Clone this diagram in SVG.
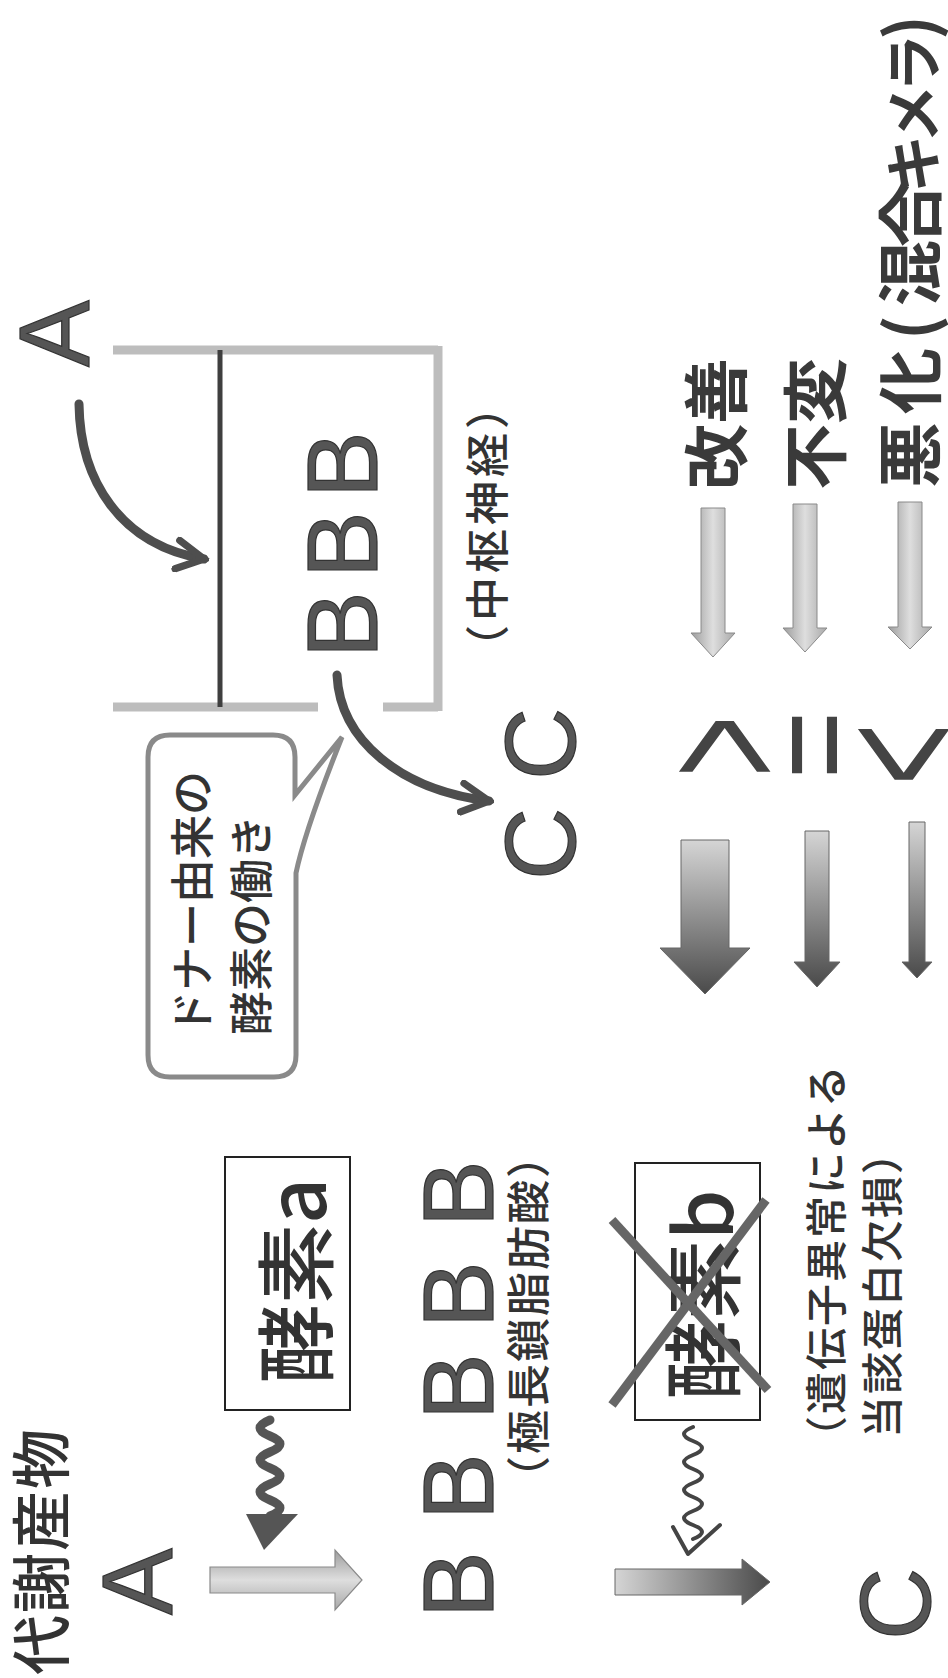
<svg xmlns="http://www.w3.org/2000/svg" width="948" height="1678" viewBox="0 0 948 1678">
<defs>
<style>
.jp{font-family:"Noto Sans CJK JP","Noto Sans CJK SC",sans-serif;fill:#333;font-weight:500}
.jb{font-family:"Noto Sans CJK JP","Noto Sans CJK SC",sans-serif;fill:#3a3a3a;font-weight:bold;font-size:66px}
.lt{font-family:"Liberation Sans",Arial,sans-serif;fill:#555;stroke:#333;stroke-width:1.2;font-size:100px}
.sym{font-family:"Liberation Sans",Arial,sans-serif;fill:#444}
.br{stroke:#bdbdbd;stroke-width:9;fill:none}
.curve{stroke:#4e4e4e;stroke-width:9;fill:none;stroke-linecap:round}
.box{fill:none;stroke:#222;stroke-width:2}
</style>
<linearGradient id="gLightH" x1="0" y1="0" x2="1" y2="0"><stop offset="0" stop-color="#9c9c9c"/><stop offset="0.5" stop-color="#dedede"/><stop offset="1" stop-color="#a8a8a8"/></linearGradient>
<linearGradient id="gLightV" x1="0" y1="0" x2="0" y2="1"><stop offset="0" stop-color="#9c9c9c"/><stop offset="0.5" stop-color="#dedede"/><stop offset="1" stop-color="#a8a8a8"/></linearGradient>
<linearGradient id="gDarkV" x1="0" y1="0" x2="0" y2="1"><stop offset="0" stop-color="#d5d5d5"/><stop offset="1" stop-color="#4a4a4a"/></linearGradient>
<linearGradient id="gDarkH" x1="0" y1="0" x2="1" y2="0"><stop offset="0" stop-color="#d5d5d5"/><stop offset="1" stop-color="#4a4a4a"/></linearGradient>
<marker id="chev" viewBox="0 0 10 10" refX="8.5" refY="5" markerWidth="4" markerHeight="4" orient="auto" markerUnits="strokeWidth"><path d="M1,1 L8.5,5 L1,9" fill="none" stroke="#4e4e4e" stroke-width="2" stroke-linecap="round"/></marker>
</defs>
<rect width="948" height="1678" fill="#fff"/>

<!-- connectors -->
<g id="connectors">
<polygon points="210,1567 335,1567 335,1550 362,1580 335,1610 335,1593 210,1593" fill="url(#gLightV)" stroke="#8a8a8a" stroke-width="1.2"/>
<polygon points="615,1569 742,1569 742,1559 770,1582 742,1605 742,1595 615,1595" fill="url(#gDarkH)" stroke="#666" stroke-width="1"/>
<path d="M270,1420 q-20,8 0,16 t0,16 t0,16 t0,16 t0,16 t0,16" fill="none" stroke="#555" stroke-width="9" stroke-linecap="round"/>
<polygon points="246,1514 298,1514 264,1550" fill="#555"/>
<path d="M693,1427 q-18,7 0,14 t0,14 t0,14 t0,14 t0,14 t0,14 t0,14 t0,14" fill="none" stroke="#444" stroke-width="4" stroke-linecap="round"/>
<polyline points="673,1527 688,1554 720,1525" fill="none" stroke="#444" stroke-width="4" stroke-linecap="round" stroke-linejoin="round"/>
<path class="curve" d="M79,404 C80,480 120,545 204,559" marker-end="url(#chev)"/>
<path class="curve" d="M337,675 C340,740 400,790 489,801" marker-end="url(#chev)"/>
<polygon points="701,508 725,508 725,633 735,633 713,657 691,633 701,633" fill="url(#gLightH)" stroke="#8a8a8a" stroke-width="1"/>
<polygon points="793,504 817,504 817,628 827,628 805,652 783,628 793,628" fill="url(#gLightH)" stroke="#8a8a8a" stroke-width="1"/>
<polygon points="898,502 922,502 922,627 932,627 910,649 888,627 898,627" fill="url(#gLightH)" stroke="#8a8a8a" stroke-width="1"/>
<polygon points="681,840 729,840 729,948 750,948 705,994 660,948 681,948" fill="url(#gDarkV)" stroke="#666" stroke-width="1"/>
<polygon points="805,831 829,831 829,962 840,962 817,987 794,962 805,962" fill="url(#gDarkV)" stroke="#666" stroke-width="1"/>
<polygon points="909,822 925,822 925,962 932,962 917,978 902,962 909,962" fill="url(#gDarkV)" stroke="#666" stroke-width="1"/>
</g>

<g id="label-metabolite"><text class="jp" font-size="60" letter-spacing="2" transform="rotate(-90)" x="-1675" y="64">代謝産物</text></g>
<g id="node-A1"><text class="lt" transform="rotate(-90)" x="-1615" y="172">A</text></g>
<g id="node-enzyme-a">
<rect class="box" x="225" y="1157" width="125" height="253"/>
<text class="jp" font-size="80" transform="rotate(-90)" x="-1384" y="326">酵素a</text>
</g>
<g id="node-B1">
<text class="lt" transform="rotate(-90)" x="-1618 -1520 -1420 -1328 -1227" y="493">BBBBB</text>
<text class="jp" font-size="44" letter-spacing="2" transform="rotate(-90)" x="-1500" y="545">（極長鎖脂肪酸）</text>
</g>
<g id="node-enzyme-b">
<rect class="box" x="635" y="1163" width="125" height="257"/>
<text class="jp" font-size="80" transform="rotate(-90)" x="-1400" y="733">酵素b</text>
<line x1="612" y1="1220" x2="768" y2="1390" stroke="#666" stroke-width="9"/>
<line x1="766" y1="1200" x2="612" y2="1405" stroke="#666" stroke-width="9"/>
</g>
<g id="note-deficiency">
<text class="jp" font-size="42" letter-spacing="2" transform="rotate(-90)" x="-1458" y="842">（遺伝子異常による</text>
<text class="jp" font-size="42" letter-spacing="2" transform="rotate(-90)" x="-1438" y="898">当該蛋白欠損）</text>
</g>
<g id="node-C1"><text class="lt" transform="rotate(-90)" x="-1640" y="930">C</text></g>

<g id="node-A2"><text class="lt" transform="rotate(-90)" x="-367" y="89">A</text></g>
<g id="node-CNS">
<line class="br" x1="113" y1="350" x2="438" y2="350"/>
<line class="br" x1="438" y1="346" x2="438" y2="711"/>
<line class="br" x1="113" y1="707" x2="318" y2="707"/>
<line class="br" x1="383" y1="707" x2="438" y2="707"/>
<line x1="220" y1="350" x2="220" y2="707" stroke="#3f3f3f" stroke-width="5"/>
<text class="lt" transform="rotate(-90)" x="-658 -578 -498" y="377">BBB</text>
<text class="jp" font-size="44" letter-spacing="4" transform="rotate(-90)" x="-669" y="504">（中枢神経）</text>
</g>
<g id="node-C2"><text class="lt" transform="rotate(-90)" x="-880 -780" y="575">CC</text></g>
<g id="bubble">
<path d="M170,735 H273 Q295,735 295,757 V795 L342,737 Q305,830 296,873 V1055 Q296,1077 274,1077 H170 Q148,1077 148,1055 V757 Q148,735 170,735 Z" fill="#fff" stroke="#8a8a8a" stroke-width="5"/>
<text class="jp" font-size="44" transform="rotate(-90)" x="-1035" y="209">ドナー由来の</text>
<text class="jp" font-size="44" transform="rotate(-90)" x="-1035" y="268">酵素の働き</text>
</g>
<g id="row-improve">
<text class="sym" font-size="180" transform="rotate(-90) translate(-777,784) scale(0.58,1)">&gt;</text>
<text class="jb" transform="rotate(-90)" x="-490" y="741">改善</text>
</g>
<g id="row-same">
<text class="sym" font-size="140" transform="rotate(-90) translate(-779,860) scale(0.83,1)">=</text>
<text class="jb" transform="rotate(-90)" x="-490" y="840">不変</text>
</g>
<g id="row-worse">
<text class="sym" font-size="180" transform="rotate(-90) translate(-785,963) scale(0.58,1)">&lt;</text>
<text class="jb" transform="rotate(-90)" x="-488 -414 -340 -306 -247 -193 -143 -92 -40" y="935">悪化(混合<tspan font-size="58">キメラ</tspan>)</text>
</g>
</svg>
